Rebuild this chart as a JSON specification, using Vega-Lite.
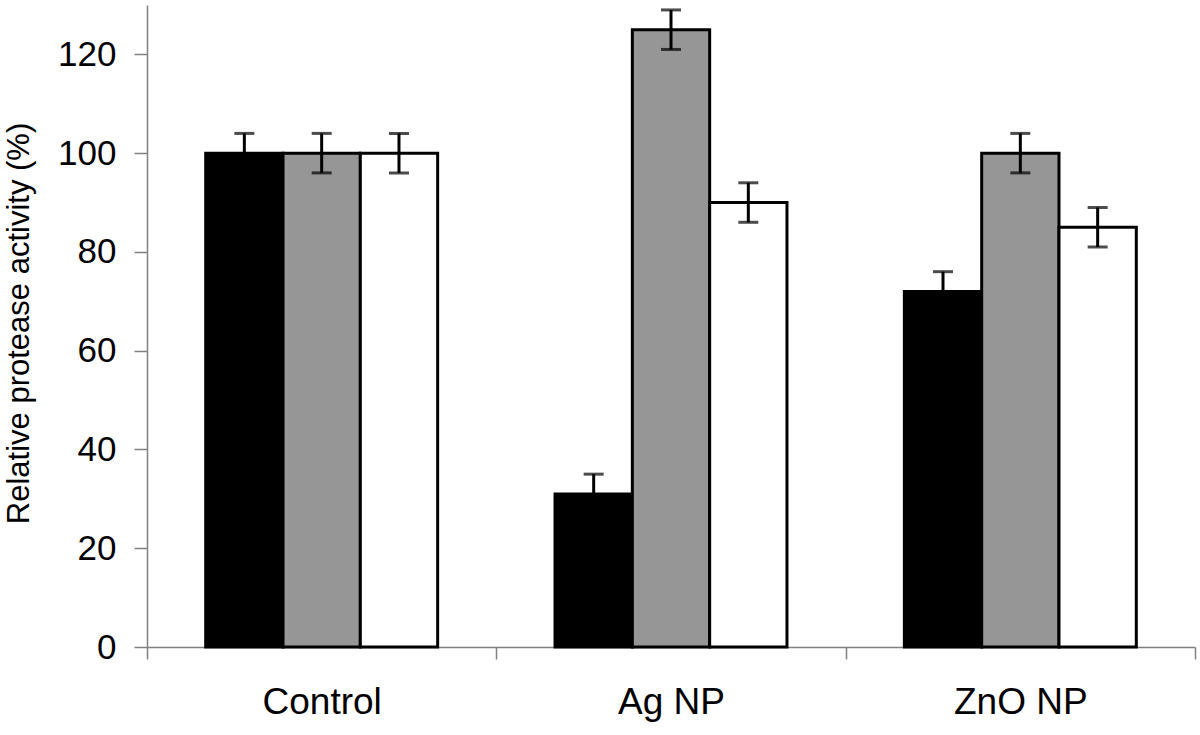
{
  "$schema": "https://vega.github.io/schema/vega-lite/v6.json",
  "width": 1048,
  "height": 642,
  "autosize": {"type": "none"},
  "padding": {"left": 147, "top": 5, "right": 5, "bottom": 88},
  "background": "white",
  "config": {"view": {"stroke": null}, "font": "Liberation Sans"},
  "data": {"values": [
    {"group": "Control", "series": "1", "value": 100, "lo": 96, "hi": 104},
    {"group": "Control", "series": "2", "value": 100, "lo": 96, "hi": 104},
    {"group": "Control", "series": "3", "value": 100, "lo": 96, "hi": 104},
    {"group": "Ag NP", "series": "1", "value": 31, "lo": 27, "hi": 35},
    {"group": "Ag NP", "series": "2", "value": 125, "lo": 121, "hi": 129},
    {"group": "Ag NP", "series": "3", "value": 90, "lo": 86, "hi": 94},
    {"group": "ZnO NP", "series": "1", "value": 72, "lo": 68, "hi": 76},
    {"group": "ZnO NP", "series": "2", "value": 100, "lo": 96, "hi": 104},
    {"group": "ZnO NP", "series": "3", "value": 85, "lo": 81, "hi": 89}
  ]},
  "encoding": {
    "x": {"field": "group", "type": "nominal", "sort": ["Control", "Ag NP", "ZnO NP"],
      "scale": {"paddingInner": 0, "paddingOuter": 0},
      "axis": {"title": null, "labelAngle": 0, "labelFontSize": 37, "labelColor": "black",
        "domainColor": "#808080", "domainWidth": 1.5, "tickColor": "#808080", "tickWidth": 1.5,
        "tickSize": 12, "tickBand": "extent", "labelPadding": 25}},
    "xOffset": {"field": "series", "type": "nominal", "sort": ["1", "2", "3"],
      "scale": {"paddingInner": 0, "paddingOuter": 0.759}}
  },
  "layer": [
    {
      "mark": {"type": "bar", "stroke": "black", "strokeWidth": 3, "strokeJoin": "miter"},
      "encoding": {
        "y": {"field": "value", "type": "quantitative", "scale": {"domain": [0, 130], "nice": false},
          "axis": {"title": "Relative protease activity (%)", "titleFontSize": 31, "titleFontWeight": "normal",
            "titleColor": "black", "titleX": -128, "titleY": 318, "titleAngle": -90, "titleBaseline": "middle",
            "values": [0, 20, 40, 60, 80, 100, 120], "labelFontSize": 35, "labelColor": "black",
            "labelPadding": 18, "grid": false, "domainColor": "#808080", "domainWidth": 1.5,
            "tickColor": "#808080", "tickWidth": 1.5, "tickSize": 13}},
        "fill": {"field": "series", "type": "nominal", "legend": null,
          "scale": {"domain": ["1", "2", "3"], "range": ["#000000", "#969696", "#ffffff"]}}
      }
    },
    {
      "mark": {"type": "rule", "color": "black", "strokeWidth": 3},
      "encoding": {
        "y": {"field": "lo", "type": "quantitative"},
        "y2": {"field": "hi"}
      }
    },
    {
      "mark": {"type": "tick", "color": "black", "thickness": 3, "size": 20, "orient": "horizontal"},
      "encoding": {"y": {"field": "hi", "type": "quantitative"}}
    },
    {
      "mark": {"type": "tick", "color": "black", "thickness": 3, "size": 20, "orient": "horizontal"},
      "encoding": {"y": {"field": "lo", "type": "quantitative"}}
    }
  ]
}
